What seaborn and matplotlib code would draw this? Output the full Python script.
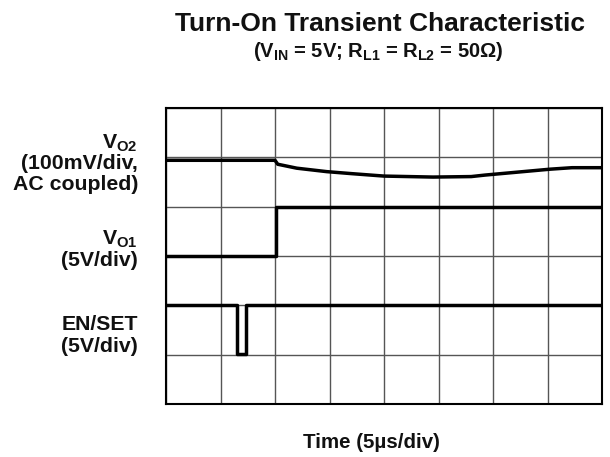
import numpy as np
import pandas as pd
import matplotlib
matplotlib.use("Agg")
import matplotlib.pyplot as plt
import seaborn as sns

sns.set_style("white")
plt.rcParams['font.family'] = ['Liberation Sans', 'DejaVu Sans']
plt.rcParams['mathtext.default'] = 'regular'

# Traces, in scope divisions (x: 8 div, y: 6 div from bottom)
t_vo2 = [0.0, 2.0, 2.05, 2.4, 2.95, 3.4, 4.0, 4.9, 5.6, 5.85, 6.45, 7.05, 7.45, 8.0]
vo2 = [4.94, 4.94, 4.86, 4.78, 4.71, 4.67, 4.62, 4.60, 4.61, 4.64, 4.70, 4.76, 4.79, 4.79]

t_vo1 = [0.0, 2.01, 2.01, 8.0]
vo1 = [3.0, 3.0, 4.0, 4.0]

t_en = [0.0, 1.30, 1.30, 1.46, 1.46, 8.0]
en = [2.0, 2.0, 1.02, 1.02, 2.0, 2.0]

traces = pd.concat([
    pd.DataFrame({'t': t_vo2, 'v': vo2, 'trace': 'VO2'}),
    pd.DataFrame({'t': t_vo1, 'v': vo1, 'trace': 'VO1'}),
    pd.DataFrame({'t': t_en, 'v': en, 'trace': 'EN'}),
], ignore_index=True)

fig = plt.figure(figsize=(6.1, 4.57), dpi=100)
ax = fig.add_axes([166 / 610, 53 / 457, 436 / 610, 296 / 457])

for name, grp in traces.groupby('trace', sort=False):
    sns.lineplot(data=grp, x='t', y='v', ax=ax, color='black', lw=2.5,
                 sort=False, estimator=None, legend=False)

ax.set_xlim(0, 8)
ax.set_ylim(0, 6)
ax.set_xticks(range(9))
ax.set_yticks(range(7))
ax.tick_params(length=0, labelbottom=False, labelleft=False)
ax.grid(True, color='#555555', lw=1)
ax.set_xlabel('')
ax.set_ylabel('')
for s in ax.spines.values():
    s.set_color('black')
    s.set_linewidth(1.5)


def fy(py):
    return 1 - py / 457


# Titles
fig.text(380 / 610, fy(31), 'Turn-On Transient Characteristic',
         ha='center', va='baseline', fontsize=19, fontweight='bold', color='#111111')
fig.text(378 / 610, fy(57), '(V$_{IN}$ = 5V; R$_{L1}$ = R$_{L2}$ = 50Ω)',
         ha='center', va='baseline', fontsize=14.5, fontweight='bold', color='#111111')
fig.text(371 / 610, fy(448), 'Time (5µs/div)',
         ha='center', va='baseline', fontsize=14.8, fontweight='bold', color='#111111')

# Left labels
lab = dict(ha='right', va='baseline', fontsize=15.3, fontweight='bold', color='#111111')
xr = 138 / 610
fig.text(xr, fy(149), 'V$_{O2}$', **lab)
fig.text(xr, fy(169), '(100mV/div,', **lab)
fig.text(xr, fy(190), 'AC coupled)', **lab)
fig.text(xr, fy(245), 'V$_{O1}$', **lab)
fig.text(xr, fy(266), '(5V/div)', **lab)
fig.text(xr, fy(330), 'EN/SET', **lab)
fig.text(xr, fy(352), '(5V/div)', **lab)

fig.savefig('out.png', dpi=100)
